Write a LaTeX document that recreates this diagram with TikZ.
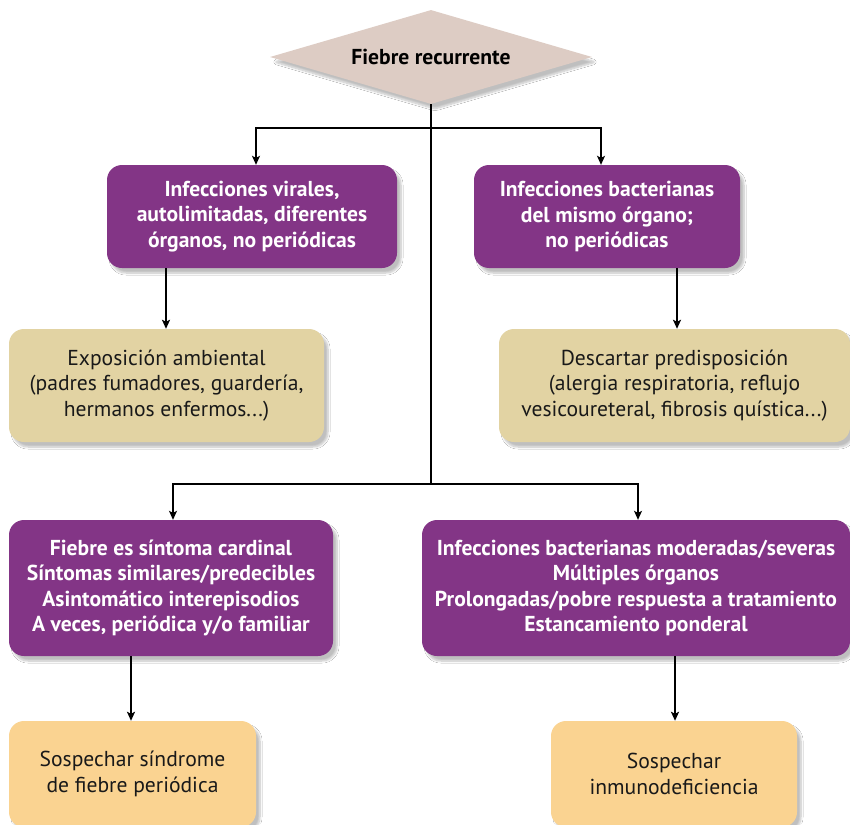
\documentclass[tikz,border=0pt]{standalone}
\usepackage{fontspec}
\setmainfont{PT Sans}
\usetikzlibrary{shapes.geometric,arrows.meta,shadows,shadows.blur}
\definecolor{purp}{HTML}{833586}
\definecolor{tanc}{HTML}{E2D3A3}
\definecolor{orng}{HTML}{FAD391}
\definecolor{diam}{HTML}{DDCCC4}
\tikzset{
  shad/.style={blur shadow={shadow xshift=4pt,shadow yshift=-5pt,shadow blur steps=8,shadow blur extra rounding=3pt,shadow opacity=25}},
  txt/.style={font=\fontsize{21.6}{25.5}\selectfont},
  pbox/.style={shad,rounded corners=15pt,fill=purp,text=white,font=\bfseries\fontsize{21.6}{25.5}\selectfont,align=center,inner sep=0pt},
  tbox/.style={shad,rounded corners=15pt,fill=tanc,text=black!90,font=\fontsize{21.6}{25.5}\selectfont,align=center,inner sep=0pt},
  obox/.style={shad,rounded corners=15pt,fill=orng,text=black!90,font=\fontsize{21.6}{25.5}\selectfont,align=center,inner sep=0pt},
  conn/.style={line width=1.2pt,black},
  arr/.style={conn,-{Stealth[length=9pt,width=8pt,inset=2pt]}},
}
\begin{document}
\begin{tikzpicture}[x=1pt,y=-1pt]
\useasboundingbox[fill=white] (0,0) rectangle (850,824);
\node[diamond,shad,fill=diam,aspect=3.43,minimum width=322pt,minimum height=94pt,inner sep=0pt,font=\bfseries\fontsize{21.6}{25}\selectfont] (d) at (431,57) {Fiebre recurrente};
\node[pbox,minimum width=290pt,minimum height=103pt] (b1) at (252,216.5) {Infecciones virales,\\autolimitadas, diferentes\\órganos, no periódicas};
\node[pbox,minimum width=266pt,minimum height=103pt] (b2) at (607,216.5) {Infecciones bacterianas\\del mismo órgano;\\no periódicas};
\node[tbox,minimum width=315pt,minimum height=113pt] (t1) at (166.5,385.5) {Exposición ambiental\\(padres fumadores, guardería,\\hermanos enfermos...)};
\node[tbox,minimum width=351pt,minimum height=113pt] (t2) at (674.5,385.5) {Descartar predisposición\\(alergia respiratoria, reflujo\\vesicoureteral, fibrosis quística...)};
\node[pbox,minimum width=324pt,minimum height=136pt] (p3) at (171,588) {Fiebre es síntoma cardinal\\Síntomas similares/predecibles\\Asintomático interepisodios\\A veces, periódica y/o familiar};
\node[pbox,minimum width=428pt,minimum height=136pt] (p4) at (636,588) {Infecciones bacterianas moderadas/severas\\Múltiples órganos\\Prolongadas/pobre respuesta a tratamiento\\Estancamiento ponderal};
\node[obox,minimum width=247pt,minimum height=106pt] (o1) at (132.5,774) {Sospechar síndrome\\de fiebre periódica};
\node[obox,minimum width=246pt,minimum height=106pt] (o2) at (674,774) {Sospechar\\inmunodeficiencia};
% connectors
\coordinate (j1) at (431,128);
\coordinate (j2) at (431,484);
\draw[conn] (d.south) -- (j1);
\draw[arr] (j1) -| ([xshift=4pt]b1.north);
\draw[arr] (j1) -| ([xshift=-6pt]b2.north);
\draw[conn] (j1) -- (j2);
\draw[line width=2.4pt] (431,142) -- (431,312);
\draw[arr] (j2) -| ([xshift=2pt]p3.north);
\draw[arr] (j2) -| ([xshift=2pt]p4.north);
\draw[arr,line width=2.6pt] ([xshift=-0.5pt]t1.north |- b1.south) -- ([xshift=-0.5pt]t1.north);
\draw[arr,line width=2.6pt] ([xshift=2.5pt]t2.north |- b2.south) -- ([xshift=2.5pt]t2.north);
\draw[arr,line width=1.8pt] ([xshift=-1.5pt]o1.north |- p3.south) -- ([xshift=-1.5pt]o1.north);
\draw[arr,line width=1.8pt] ([xshift=1pt]o2.north |- p4.south) -- ([xshift=1pt]o2.north);
\end{tikzpicture}
\end{document}
